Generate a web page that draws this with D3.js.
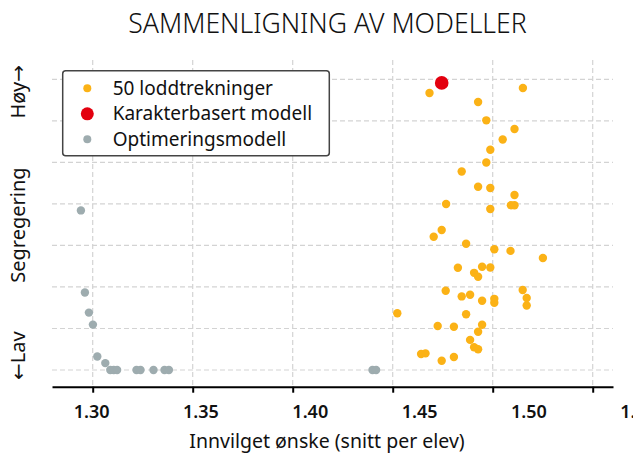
<!DOCTYPE html>
<html>
<head>
<meta charset="utf-8">
<script src="https://cdn.jsdelivr.net/npm/d3@7"></script>
<style>
  body { margin: 0; background: #fff; }
  text { font-family: "Noto Sans", sans-serif; fill: #111; }
  .arrow { font-family: "DejaVu Sans", sans-serif; }
</style>
</head>
<body>
<script>
// Size of the whole picture
var w = 633;
var h = 457;

// Plot area edges
var plotLeft = 52, plotRight = 613, plotTop = 60, plotBottom = 386.7;

// 50 lottery draws (x = granted wish, y = segregation)
var lotteryX = [1.4684, 1.5151, 1.4927, 1.4968, 1.5109, 1.5050, 1.4988, 1.4968, 1.4845, 1.4927,
                1.4988, 1.5109, 1.4767, 1.5091, 1.5109, 1.4988, 1.4745, 1.4705, 1.4867, 1.5008,
                1.5089, 1.5251, 1.4826, 1.4947, 1.4988, 1.4907, 1.4927, 1.4765, 1.5150, 1.4845,
                1.4887, 1.4947, 1.5008, 1.5008, 1.5170, 1.5170, 1.4523, 1.4867, 1.4725, 1.4806,
                1.4947, 1.4927, 1.4887, 1.4907, 1.4927, 1.4642, 1.4664, 1.4745, 1.4806, 1.4745];
var lotteryY = [7.670, 7.790, 7.453, 7.012, 6.803, 6.550, 6.305, 5.996, 5.780, 5.414,
                5.382, 5.214, 4.997, 4.966, 4.966, 4.877, 4.371, 4.210, 4.039, 3.909,
                3.868, 3.697, 3.463, 3.487, 3.470, 3.340, 3.244, 2.909, 2.926, 2.772,
                2.813, 2.666, 2.714, 2.618, 2.734, 2.553, 2.368, 2.341, 2.059, 2.043,
                2.091, 1.920, 1.725, 1.547, 1.498, 1.385, 1.400, 1.222, 1.313, 7.900];

// Grade based model (one point)
var gradeX = [1.4745];
var gradeY = [7.913];

// Optimisation model
var optX = [1.2941, 1.2961, 1.2981, 1.3001, 1.3023, 1.3063, 1.3088, 1.3105, 1.3122,
            1.3219, 1.3239, 1.3304, 1.3359, 1.3381, 1.4399, 1.4417];
var optY = [4.843, 2.866, 2.382, 2.093, 1.327, 1.166, 1.0, 1.0, 1.0,
            1.0, 1.0, 1.0, 1.0, 1.0, 1.0, 1.0];

// Ticks
var xTicks = [1.30, 1.35, 1.40, 1.45, 1.50, 1.55];
var xTickLabels = ["1.30", "1.35", "1.40", "1.45", "1.50", "1.55"];
var yTicks = [1, 2, 3, 4, 5, 6, 7, 8];

// Legend entries
var legendLabels = ["50 loddtrekninger", "Karakterbasert modell", "Optimeringsmodell"];
var legendColors = ["#fbb216", "#e3000f", "#9eacaf"];
var legendRadius = [4, 6.5, 4];

var xScale = d3.scaleLinear()
               .domain([1.27965, 1.56015])
               .range([plotLeft, plotRight]);

// tick labels in the original sit a bit wider apart than the ticks
var labelScale = d3.scaleLinear()
                   .domain([1.30, 1.55])
                   .range([91.7, 638.2]);

var yScale = d3.scaleLinear()
               .domain([0.598, 8.465])
               .range([plotBottom, plotTop]);

var svg = d3.select("body")
            .append("svg")
            .attr("width", w)
            .attr("height", h);

// Grid lines
svg.append("g")
    .selectAll("line")
    .data(yTicks)
    .enter()
    .append("line")
    .attr("x1", plotLeft)
    .attr("x2", plotRight)
    .attr("y1", function(d) { return yScale(d); })
    .attr("y2", function(d) { return yScale(d); })
    .attr("stroke", "#d3d3d3")
    .attr("stroke-width", 1.2)
    .attr("stroke-dasharray", "5,3");

svg.append("g")
    .selectAll("line")
    .data(xTicks)
    .enter()
    .append("line")
    .attr("x1", function(d) { return xScale(d); })
    .attr("x2", function(d) { return xScale(d); })
    .attr("y1", plotTop)
    .attr("y2", plotBottom)
    .attr("stroke", "#d3d3d3")
    .attr("stroke-width", 1.2)
    .attr("stroke-dasharray", "5,3");

// X axis
var xAxis = svg.append("g")
    .attr("transform", "translate(0," + plotBottom + ")")
    .call(d3.axisBottom(xScale).tickValues(xTicks).tickSize(6).tickSizeOuter(0).tickFormat(""));
xAxis.selectAll("path, line")
    .attr("stroke", "#000")
    .attr("stroke-width", 2);

svg.append("g")
    .selectAll("text")
    .data(xTicks)
    .enter()
    .append("text")
    .text(function(d, i) { return xTickLabels[i]; })
    .attr("x", function(d) { return labelScale(d); })
    .attr("y", 417.5)
    .attr("text-anchor", "middle")
    .attr("font-size", "18px")
    .attr("font-weight", 600);

// Axis titles
svg.append("text")
    .text("Innvilget ønske (snitt per elev)")
    .attr("x", 327)
    .attr("y", 448)
    .attr("text-anchor", "middle")
    .attr("font-size", "19.5px");

var high = svg.append("text")
    .attr("transform", "translate(25,65) rotate(-90)")
    .attr("text-anchor", "end")
    .attr("font-size", "20px");
high.append("tspan").text("Høy");
high.append("tspan").attr("class", "arrow").text("→");

svg.append("text")
    .text("Segregering")
    .attr("transform", "translate(25,225) rotate(-90)")
    .attr("text-anchor", "middle")
    .attr("font-size", "20px");

var low = svg.append("text")
    .attr("transform", "translate(25,380) rotate(-90)")
    .attr("text-anchor", "start")
    .attr("font-size", "20px");
low.append("tspan").attr("class", "arrow").text("←");
low.append("tspan").text("Lav");

// Title
svg.append("text")
    .text("SAMMENLIGNING AV MODELLER")
    .attr("x", 327.5)
    .attr("y", 33)
    .attr("text-anchor", "middle")
    .attr("font-size", "26.6px")
    .attr("font-weight", 300);

// Points
svg.append("g")
    .selectAll("circle")
    .data(optX)
    .enter()
    .append("circle")
    .attr("cx", function(d) { return xScale(d); })
    .attr("cy", function(d, i) { return yScale(optY[i]); })
    .attr("r", 4.2)
    .attr("fill", legendColors[2]);

svg.append("g")
    .selectAll("circle")
    .data(lotteryX)
    .enter()
    .append("circle")
    .attr("cx", function(d) { return xScale(d); })
    .attr("cy", function(d, i) { return yScale(lotteryY[i]); })
    .attr("r", 4.2)
    .attr("fill", legendColors[0]);

svg.append("g")
    .selectAll("circle")
    .data(gradeX)
    .enter()
    .append("circle")
    .attr("cx", function(d) { return xScale(d); })
    .attr("cy", function(d, i) { return yScale(gradeY[i]); })
    .attr("r", 6.8)
    .attr("fill", legendColors[1]);

// Legend
var legend = svg.append("g");
legend.append("rect")
    .attr("x", 62.7)
    .attr("y", 70.7)
    .attr("width", 266.6)
    .attr("height", 85)
    .attr("rx", 3)
    .attr("fill", "#fff")
    .attr("stroke", "#444")
    .attr("stroke-width", 1.5);

legend.selectAll("circle")
    .data(legendLabels)
    .enter()
    .append("circle")
    .attr("cx", 87.3)
    .attr("cy", function(d, i) { return 88.3 + i * 25.5; })
    .attr("r", function(d, i) { return legendRadius[i]; })
    .attr("fill", function(d, i) { return legendColors[i]; });

legend.selectAll("text")
    .data(legendLabels)
    .enter()
    .append("text")
    .text(function(d) { return d; })
    .attr("x", 112.7)
    .attr("y", function(d, i) { return 88.3 + i * 25.5 + 6.5; })
    .attr("font-size", "19px");
</script>
</body>
</html>
